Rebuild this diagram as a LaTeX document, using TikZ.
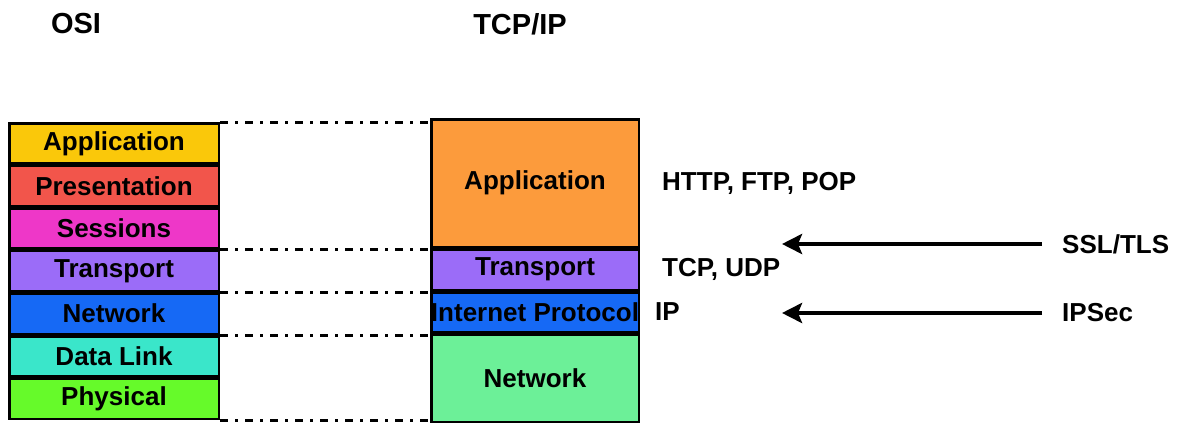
\documentclass[tikz,border=0pt]{standalone}
\usepackage{fontspec}
\setmainfont{Liberation Sans}
\usetikzlibrary{positioning}
\usetikzlibrary{arrows.meta}

\definecolor{osiyellow}{RGB}{250,200,10}
\definecolor{osired}{RGB}{242,85,75}
\definecolor{osipink}{RGB}{238,55,200}
\definecolor{osipurple}{RGB}{155,108,248}
\definecolor{osiblue}{RGB}{22,105,245}
\definecolor{ositeal}{RGB}{58,230,202}
\definecolor{osigreen}{RGB}{102,250,42}
\definecolor{tcporange}{RGB}{252,155,60}
\definecolor{tcpgreen}{RGB}{108,240,152}

\tikzset{
  layer/.style={draw=black, line width=2.5pt, inner sep=0pt, font=\fontsize{26}{26}\selectfont\bfseries},
  osibox/.style={layer, minimum width=209.5pt, minimum height=40.1pt},
  tcpbox/.style={layer, minimum width=207.5pt},
  title/.style={font=\fontsize{29}{29}\selectfont\bfseries, inner sep=0pt},
  side/.style={font=\fontsize{26}{26}\selectfont\bfseries, inner sep=0pt},
  linkline/.style={draw, line width=3pt, dash pattern=on 8pt off 7pt on 3pt off 7pt},
}

\begin{document}
\begin{tikzpicture}[x=1pt,y=-1pt,node distance=0pt,>={Stealth[length=20pt,width=20pt,inset=4pt]}]
\useasboundingbox (0,0) rectangle (1178,423);
\fill[white] (0,0) rectangle (1178,423);
% headings
\path node[title] (osi) at (76,24) {OSI};
\path node[title] (tcpip) at (520,24) {TCP/IP};
% OSI layers
\path node[osibox, fill=osiyellow] (osiapp) at (114,143.3) {Application};
\path node[osibox, fill=osired, below=of osiapp] (osipres) {Presentation};
\path node[osibox, fill=osipink, below=of osipres] (osisess) {Sessions};
\path node[osibox, fill=osipurple, below=of osisess] (ositrans) {Transport};
\path node[osibox, fill=osiblue, below=of ositrans] (osinet) {Network};
\path node[osibox, fill=ositeal, below=of osinet] (osilink) {Data Link};
\path node[osibox, fill=osigreen, below=of osilink] (osiphys) {Physical};
% TCP/IP layers
\path node[tcpbox, fill=tcporange, minimum height=127.5pt] (tcpapp) at (535,183) {Application};
\path node[tcpbox, fill=osipurple, minimum height=40.5pt, below=of tcpapp] (tcptrans) {Transport};
\path node[tcpbox, fill=osiblue, minimum height=39.5pt, below=of tcptrans] (tcpip) {\makebox[0pt]{Internet Protocol}};
\path node[tcpbox, fill=tcpgreen, minimum height=87.5pt, below=of tcpip] (tcpnet) {Network};
% mapping lines
\path[linkline] (osiapp.north east) -- (osiapp.north east -| tcpapp.west);
\path[linkline] (osisess.south east) -- (osisess.south east -| tcptrans.west);
\path[linkline] (ositrans.south east) -- (ositrans.south east -| tcpip.west);
\path[linkline] (osinet.south east) -- (osinet.south east -| tcpnet.west);
\path[linkline] (osiphys.south east) -- (osiphys.south east -| tcpnet.west);
% protocols
\path node[side, right=22pt of tcpapp] (appproto) {HTTP, FTP, POP};
\path node[side, right=22pt of tcptrans] (transproto) {TCP, UDP};
\path node[side, right=15pt of tcpip] (ipproto) {IP};
\path node[side, anchor=west] (ssl) at (1062,244) {SSL/TLS};
\path node[side, anchor=west] (ipsec) at (1062,313) {IPSec};
\coordinate (sslto) at (782,244);
\coordinate (ipsecto) at (782,313);
\path[->, draw, line width=4pt, shorten <=20pt] (ssl.west) -- (sslto);
\path[->, draw, line width=4pt, shorten <=20pt] (ipsec.west) -- (ipsecto);
\end{tikzpicture}
\end{document}
